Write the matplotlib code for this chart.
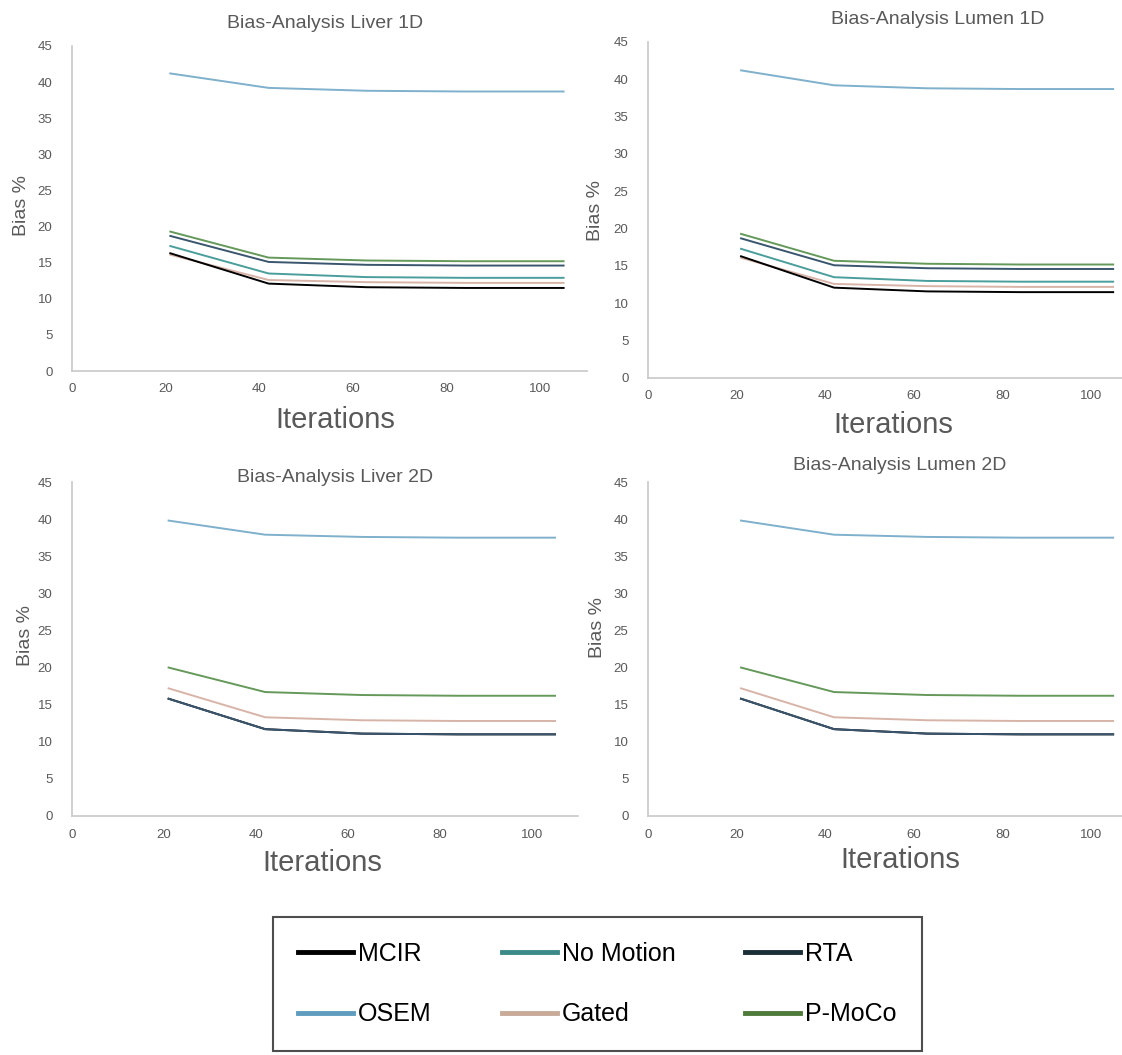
import matplotlib.pyplot as plt
from matplotlib.lines import Line2D

plt.rcParams['font.family'] = ['Liberation Sans', 'DejaVu Sans']

# === DATA ===
iterations = [21, 42, 63, 84, 105]

# 1D motion (liver and lumen curves are the same in the figure)
mcir_1d = [16.3, 12.1, 11.6, 11.5, 11.5]
gated_1d = [16.1, 12.6, 12.3, 12.2, 12.2]
nomotion_1d = [17.3, 13.5, 13.0, 12.9, 12.9]
rta_1d = [18.7, 15.1, 14.7, 14.6, 14.6]
pmoco_1d = [19.3, 15.7, 15.3, 15.2, 15.2]
osem_1d = [41.2, 39.2, 38.8, 38.7, 38.7]

# 2D motion (RTA sits on top of MCIR)
mcir_2d = [15.8, 11.7, 11.1, 11.0, 11.0]
rta_2d = [15.8, 11.7, 11.1, 11.0, 11.0]
gated_2d = [17.2, 13.3, 12.9, 12.8, 12.8]
pmoco_2d = [20.0, 16.7, 16.3, 16.2, 16.2]
osem_2d = [39.8, 37.9, 37.6, 37.5, 37.5]

y_ticks = [0, 5, 10, 15, 20, 25, 30, 35, 40, 45]
x_ticks = [0, 20, 40, 60, 80, 100]

# === STYLE ===
colors = {
    "MCIR": "#000000",
    "No Motion": "#4a9e9c",
    "RTA": "#3a566e",
    "OSEM": "#7fb0cc",
    "Gated": "#d8b4a8",
    "P-MoCo": "#64995a",
}
legend_colors = {
    "MCIR": "#000000",
    "No Motion": "#3c8a88",
    "RTA": "#1b2d35",
    "OSEM": "#5f9cc0",
    "Gated": "#c8aa98",
    "P-MoCo": "#4f7a3a",
}
grey = "#595959"

W, H = 1122, 1055


def fx(x):
    return x / W


def fy(y):
    return 1 - y / H


series_1d = [("Gated", gated_1d), ("MCIR", mcir_1d), ("No Motion", nomotion_1d),
             ("RTA", rta_1d), ("P-MoCo", pmoco_1d), ("OSEM", osem_1d)]
series_2d = [("MCIR", mcir_2d), ("RTA", rta_2d), ("Gated", gated_2d),
             ("P-MoCo", pmoco_2d), ("OSEM", osem_2d)]

# title, data, axes box (left, top, right, bottom px), xmax, title xy, ylabel xy, xlabel xy
panels = [
    ("Bias-Analysis Liver 1D", series_1d, (72, 46, 587, 371), 110, (325, 24), (22, 205), (335, 420)),
    ("Bias-Analysis Lumen 1D", series_1d, (648, 42, 1122, 378), 107, (938, 20), (596, 210), (893, 425)),
    ("Bias-Analysis Liver 2D", series_2d, (72, 482, 578, 816), 110, (335, 478), (26, 635), (322, 863)),
    ("Bias-Analysis Lumen 2D", series_2d, (648, 482, 1122, 816), 107, (900, 466), (598, 628), (900, 860)),
]

fig = plt.figure(figsize=(W / 100, H / 100), dpi=100)

for title, series, box, xmax, t_xy, yl_xy, xl_xy in panels:
    l, t, r, b = box
    ax = fig.add_axes([fx(l), fy(b), (r - l) / W, (b - t) / H])
    for name, vals in series:
        ax.plot(iterations, vals, color=colors[name], linewidth=1.4)
    ax.set_xlim(0, xmax)
    ax.set_ylim(0, 45)
    ax.set_xticks(x_ticks)
    ax.set_yticks(y_ticks)
    ax.tick_params(length=0, labelsize=9.5, colors=grey)
    ax.tick_params(axis="y", pad=14)
    ax.tick_params(axis="x", pad=9)
    for side in ["top", "right"]:
        ax.spines[side].set_visible(False)
    for side in ["left", "bottom"]:
        ax.spines[side].set_color("#c8c8c8")
        ax.spines[side].set_linewidth(1.2)

    fig.text(fx(t_xy[0]), fy(t_xy[1]), title, ha="center", va="center",
             fontsize=14, color=grey)
    fig.text(fx(yl_xy[0]), fy(yl_xy[1]), "Bias %", ha="center", va="center",
             rotation=90, fontsize=14, color=grey)
    fig.text(fx(xl_xy[0]), fy(xl_xy[1]), "Iterations", ha="center", va="center",
             fontsize=21, color=grey)

# === LEGEND ===
legend_order = ["MCIR", "OSEM", "No Motion", "Gated", "RTA", "P-MoCo"]
handles = [Line2D([], [], color=legend_colors[n], linewidth=3.5) for n in legend_order]
leg = fig.legend(handles, legend_order, ncol=3, loc="upper left",
                 bbox_to_anchor=(fx(273), fy(917)), borderaxespad=0, fontsize=18,
                 frameon=True, fancybox=False, edgecolor="#222222",
                 handlelength=2.2, handletextpad=0.2, columnspacing=2.8,
                 labelspacing=1.45, borderpad=1.0)
leg.get_frame().set_linewidth(1.5)

plt.savefig("out.png", dpi=100)
